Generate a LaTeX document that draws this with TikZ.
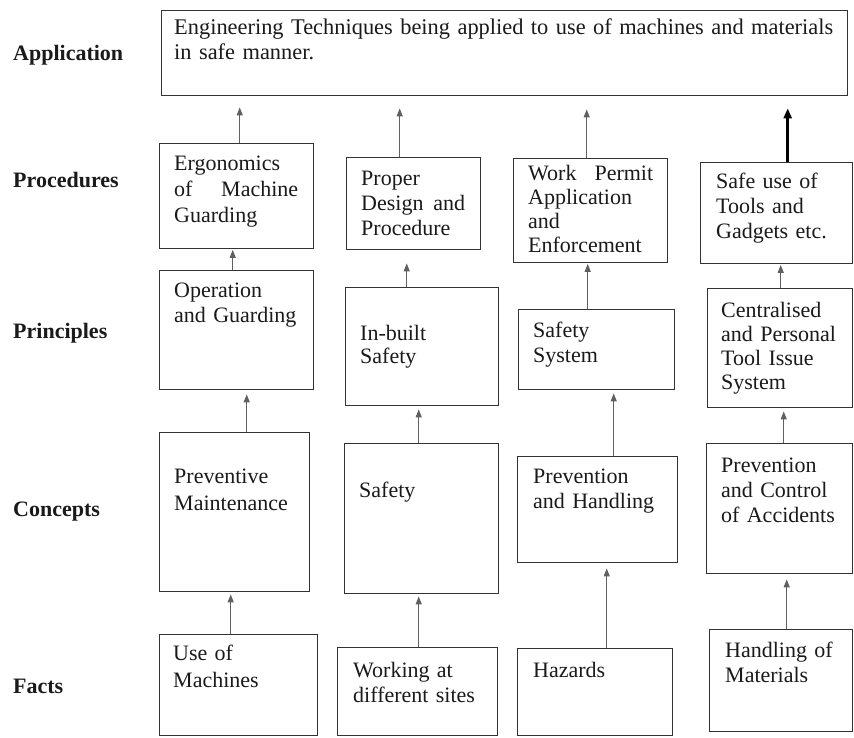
\documentclass[tikz,border=0pt]{standalone}
\usepackage{fontspec}
\setmainfont{Liberation Serif}
\usetikzlibrary{arrows.meta,calc}
\definecolor{boxc}{HTML}{333333}
\definecolor{arrc}{HTML}{606060}
\definecolor{txtc}{HTML}{1A1A1A}
\newcommand\linkup[5][arr]{%
  \draw[#1,shorten >=#5pt] ([xshift=#4pt]#2.north) -- ([xshift=#4pt]#2.north |- #3.south);}
\newcommand\spreadline[2]{\leavevmode\hbox to #1{#2}}
\begin{document}
\begin{tikzpicture}[x=1pt,y=-1pt,
  box/.style={draw=boxc, line width=1.4pt, inner sep=0pt, anchor=north west},
  txt/.style={anchor=base west, inner sep=0pt, text width=150pt, align=left,
    text=txtc, font=\fontsize{22}{25}\selectfont},
  lab/.style={anchor=base west, inner sep=0pt, text=txtc,
    font=\fontsize{22}{25}\selectfont\bfseries},
  arr/.style={draw=arrc, line width=1.1pt, -{Triangle[length=8pt,width=6pt]}},
  tarr/.style={draw=black, line width=2.6pt, -{Triangle[length=10pt,width=8pt]}}]
\fill[white] (0,0) rectangle (854,737);
\useasboundingbox (0,0) rectangle (854,737);

% labels
\node[lab] (lapp) at (13,60) {Application};
\node[lab] (lproc) at (13,187) {Procedures};
\node[lab] (lprin) at (13,338) {Principles};
\node[lab] (lconc) at (13,516) {Concepts};
\node[lab] (lfact) at (13,693) {Facts};

% boxes
\node[box, minimum width=686pt, minimum height=85pt] (app) at (161,10) {};
\node[box, minimum width=154pt, minimum height=105pt] (p1) at (159,143) {};
\node[box, minimum width=134pt, minimum height=92pt] (p2) at (346,157) {};
\node[box, minimum width=154pt, minimum height=104pt] (p3) at (513,158) {};
\node[box, minimum width=152pt, minimum height=101pt] (p4) at (700,162) {};
\node[box, minimum width=154pt, minimum height=119pt] (r1) at (159,270) {};
\node[box, minimum width=153pt, minimum height=118pt] (r2) at (345,287) {};
\node[box, minimum width=156pt, minimum height=80pt] (r3) at (518,309) {};
\node[box, minimum width=145pt, minimum height=119pt] (r4) at (707,288) {};
\node[box, minimum width=150pt, minimum height=159pt] (c1) at (159,432) {};
\node[box, minimum width=154pt, minimum height=150pt] (c2) at (344,443) {};
\node[box, minimum width=160pt, minimum height=106pt] (c3) at (517,456) {};
\node[box, minimum width=146pt, minimum height=130pt] (c4) at (706,443) {};
\node[box, minimum width=158pt, minimum height=101pt] (f1) at (159,634) {};
\node[box, minimum width=160pt, minimum height=88pt] (f2) at (337,647) {};
\node[box, minimum width=155pt, minimum height=87pt] (f3) at (517,648) {};
\node[box, minimum width=143pt, minimum height=102pt] (f4) at (709,629) {};

% texts
\node[txt, text width=675pt, font=\fontsize{22.4}{25}\selectfont] (tapp) at (174,34)
  {\mbox{Engineering Techniques being applied to use of machines and materials}\\in safe manner.};
\node[txt, font=\fontsize{22}{26}\selectfont] (tp1) at (174,170)
  {Ergonomics\\\spreadline{124pt}{of\hfill Machine}\\Guarding};
\node[txt] (tp2) at (361,185) {Proper\\\spreadline{104pt}{Design\hfill and}\\Procedure};
\node[txt, font=\fontsize{22}{24}\selectfont] (tp3) at (528,180)
  {\spreadline{125pt}{Work\hfill Permit}\\Application\\and\\Enforcement};
\node[txt] (tp4) at (716,188) {Safe use of\\Tools and\\Gadgets etc.};
\node[txt] (tr1) at (174,297) {Operation\\and Guarding};
\node[txt, font=\fontsize{22}{23.5}\selectfont] (tr2) at (360,340) {In-built\\Safety};
\node[txt] (tr3) at (533,337) {Safety\\System};
\node[txt, font=\fontsize{22}{24.3}\selectfont] (tr4) at (721,317)
  {Centralised\\and Personal\\Tool Issue\\System};
\node[txt, font=\fontsize{22}{27}\selectfont] (tc1) at (174,483) {Preventive\\Maintenance};
\node[txt] (tc2) at (359,497) {Safety};
\node[txt] (tc3) at (533,483) {Prevention\\and Handling};
\node[txt] (tc4) at (721,472) {Prevention\\and Control\\of Accidents};
\node[txt, font=\fontsize{22}{27}\selectfont] (tf1) at (173,660) {Use of\\Machines};
\node[txt] (tf2) at (353,677) {Working at\\different sites};
\node[txt] (tf3) at (533,677) {Hazards};
\node[txt] (tf4) at (725,657) {Handling of\\Materials};

% connectors: procedures -> application
\linkup{p1}{app}{3}{11}
\linkup{p2}{app}{-14}{12}
\linkup{p3}{app}{-4}{13}
\linkup[tarr]{p4}{app}{11}{12}
% principles -> procedures
\linkup{r1}{p1}{-4}{0.5}
\linkup{r2}{p2}{-15.5}{13}
\linkup{r3}{p3}{-9}{0.5}
\linkup{r4}{p4}{0.5}{0.5}
% concepts -> principles
\linkup{c1}{r1}{12}{4}
\linkup{c2}{r2}{-3}{3}
\linkup{c3}{r3}{16}{3}
\linkup{c4}{r4}{4}{3}
% facts -> concepts
\linkup{f1}{c1}{-8}{2}
\linkup{f2}{c2}{1}{2}
\linkup{f3}{c3}{11.5}{5}
\linkup{f4}{c4}{5.5}{5}
\end{tikzpicture}
\end{document}
